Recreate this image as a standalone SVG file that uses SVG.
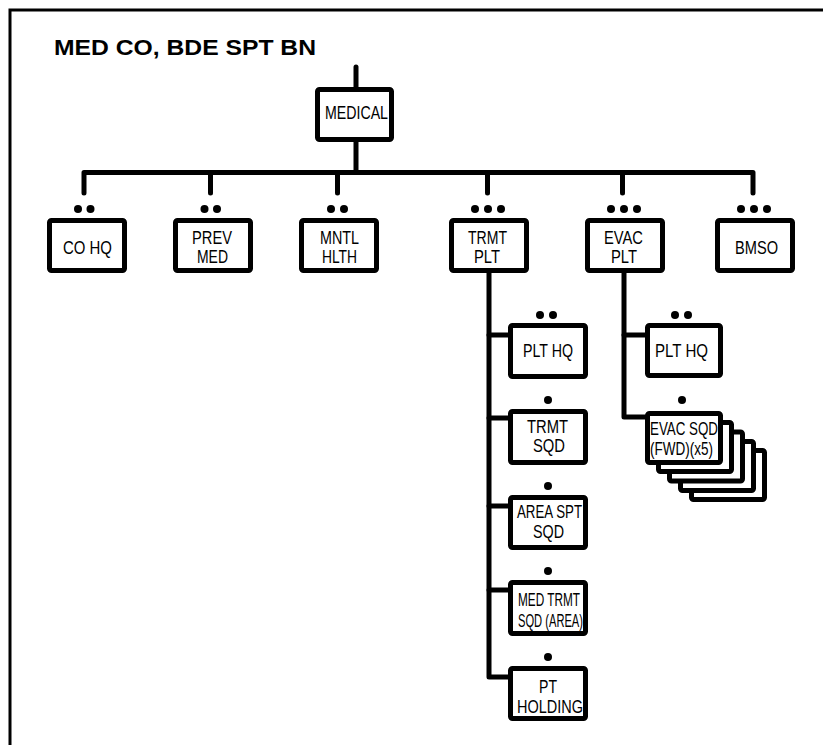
<svg xmlns="http://www.w3.org/2000/svg" width="823" height="745" viewBox="0 0 823 745">
  <style>
    .frame { fill: none; stroke: #000; stroke-width: 3; }
    .wire { fill: none; stroke: #000; stroke-width: 5; stroke-linecap: round; stroke-linejoin: round; }
    .box { fill: #fff; stroke: #000; stroke-width: 5; }
    .dot { fill: #000; }
    .lbl { font-family: "Liberation Sans", Arial, sans-serif; font-size: 18px; fill: #000; }
    .title { font-family: "Liberation Sans", Arial, sans-serif; font-size: 22px; font-weight: bold; fill: #000; }
  </style>
  <defs>
    <circle id="d" r="4" class="dot"/>
  </defs>

  <rect width="823" height="745" fill="#fff"/>

  <!-- page frame: top and left rules -->
  <path class="frame" d="M10,745 V10 H823"/>

  <text class="title" x="54" y="55" textLength="262" lengthAdjust="spacingAndGlyphs">MED CO, BDE SPT BN</text>

  <!-- connectors -->
  <g id="connectors">
    <path class="wire" d="M356,67 V87"/>
    <path class="wire" d="M356,142 V172.5"/>
    <path class="wire" d="M84,193 V172.5 H753 V193"/>
    <path class="wire" d="M210.5,172.5 V193"/>
    <path class="wire" d="M337.5,172.5 V193"/>
    <path class="wire" d="M487.5,172.5 V193"/>
    <path class="wire" d="M622.5,172.5 V193"/>
    <!-- treatment platoon spine -->
    <path class="wire" d="M489,273 V677 H508"/>
    <path class="wire" d="M489,335 H508"/>
    <path class="wire" d="M489,418 H508"/>
    <path class="wire" d="M489,506 H508"/>
    <path class="wire" d="M489,590 H508"/>
    <!-- evacuation platoon spine -->
    <path class="wire" d="M624,273 V417 H645"/>
    <path class="wire" d="M624,335 H645"/>
  </g>

  <!-- company headquarters element -->
  <g id="medical">
    <rect class="box" x="317.5" y="89.5" width="74" height="50" rx="2"/>
    <text class="lbl" x="325" y="119" textLength="63" lengthAdjust="spacingAndGlyphs">MEDICAL</text>
  </g>

  <g id="co-hq">
    <use href="#d" x="78" y="209"/><use href="#d" x="90.5" y="209"/>
    <rect class="box" x="49.5" y="220.5" width="75" height="50" rx="2"/>
    <text class="lbl" x="63" y="254" textLength="49" lengthAdjust="spacingAndGlyphs">CO HQ</text>
  </g>

  <g id="prev-med">
    <use href="#d" x="204.5" y="209"/><use href="#d" x="217" y="209"/>
    <rect class="box" x="175.5" y="220.5" width="75" height="50" rx="2"/>
    <text class="lbl" x="192" y="244" textLength="40" lengthAdjust="spacingAndGlyphs">PREV</text>
    <text class="lbl" x="197" y="263" textLength="31" lengthAdjust="spacingAndGlyphs">MED</text>
  </g>

  <g id="mntl-hlth">
    <use href="#d" x="331" y="209"/><use href="#d" x="344" y="209"/>
    <rect class="box" x="301.5" y="220.5" width="75" height="50" rx="2"/>
    <text class="lbl" x="320" y="244" textLength="39" lengthAdjust="spacingAndGlyphs">MNTL</text>
    <text class="lbl" x="322" y="263" textLength="35" lengthAdjust="spacingAndGlyphs">HLTH</text>
  </g>

  <g id="trmt-plt">
    <use href="#d" x="475" y="209"/><use href="#d" x="488" y="209"/><use href="#d" x="501" y="209"/>
    <rect class="box" x="451.5" y="220.5" width="75" height="50" rx="2"/>
    <text class="lbl" x="468" y="244" textLength="39" lengthAdjust="spacingAndGlyphs">TRMT</text>
    <text class="lbl" x="474" y="263" textLength="26" lengthAdjust="spacingAndGlyphs">PLT</text>
  </g>

  <g id="evac-plt">
    <use href="#d" x="611" y="209"/><use href="#d" x="624" y="209"/><use href="#d" x="637" y="209"/>
    <rect class="box" x="587.5" y="220.5" width="75" height="50" rx="2"/>
    <text class="lbl" x="604" y="244" textLength="39" lengthAdjust="spacingAndGlyphs">EVAC</text>
    <text class="lbl" x="611" y="263" textLength="26" lengthAdjust="spacingAndGlyphs">PLT</text>
  </g>

  <g id="bmso">
    <use href="#d" x="741" y="209"/><use href="#d" x="754" y="209"/><use href="#d" x="767" y="209"/>
    <rect class="box" x="717.5" y="220.5" width="75" height="50" rx="2"/>
    <text class="lbl" x="735" y="254" textLength="43" lengthAdjust="spacingAndGlyphs">BMSO</text>
  </g>

  <!-- treatment platoon elements -->
  <g id="trmt-plt-hq">
    <use href="#d" x="540" y="315"/><use href="#d" x="553" y="315"/>
    <rect class="box" x="510.5" y="325.5" width="75" height="51" rx="2"/>
    <text class="lbl" x="523" y="357" textLength="50" lengthAdjust="spacingAndGlyphs">PLT HQ</text>
  </g>

  <g id="trmt-sqd">
    <use href="#d" x="548" y="400"/>
    <rect class="box" x="510.5" y="411.5" width="75" height="51" rx="2"/>
    <text class="lbl" x="527" y="433" textLength="41" lengthAdjust="spacingAndGlyphs">TRMT</text>
    <text class="lbl" x="533" y="452" textLength="32" lengthAdjust="spacingAndGlyphs">SQD</text>
  </g>

  <g id="area-spt-sqd">
    <use href="#d" x="548" y="486"/>
    <rect class="box" x="510.5" y="497.5" width="75" height="50" rx="2"/>
    <text class="lbl" x="517" y="518" textLength="65" lengthAdjust="spacingAndGlyphs">AREA SPT</text>
    <text class="lbl" x="533" y="538" textLength="31" lengthAdjust="spacingAndGlyphs">SQD</text>
  </g>

  <g id="med-trmt-sqd">
    <use href="#d" x="548" y="571"/>
    <rect class="box" x="510.5" y="582.5" width="75" height="51" rx="2"/>
    <text class="lbl" x="518" y="606" textLength="62" lengthAdjust="spacingAndGlyphs">MED TRMT</text>
    <text class="lbl" x="518" y="627" textLength="65" lengthAdjust="spacingAndGlyphs">SQD (AREA)</text>
  </g>

  <g id="pt-holding">
    <use href="#d" x="548" y="657"/>
    <rect class="box" x="510.5" y="668.5" width="75" height="50" rx="2"/>
    <text class="lbl" x="539" y="693" textLength="18" lengthAdjust="spacingAndGlyphs">PT</text>
    <text class="lbl" x="517" y="713" textLength="66" lengthAdjust="spacingAndGlyphs">HOLDING</text>
  </g>

  <!-- evacuation platoon elements -->
  <g id="evac-plt-hq">
    <use href="#d" x="675" y="315"/><use href="#d" x="688" y="315"/>
    <rect class="box" x="647.5" y="325.5" width="73" height="50" rx="2"/>
    <text class="lbl" x="655" y="357" textLength="53" lengthAdjust="spacingAndGlyphs">PLT HQ</text>
  </g>

  <g id="evac-sqd">
    <use href="#d" x="682" y="400"/>
    <!-- stacked squads, back to front -->
    <rect class="box" x="691.5" y="450.5" width="73" height="49" rx="2"/>
    <rect class="box" x="680.5" y="441.5" width="73" height="49" rx="2"/>
    <rect class="box" x="669.5" y="432" width="73" height="49" rx="2"/>
    <rect class="box" x="658.5" y="422.5" width="73" height="49" rx="2"/>
    <rect class="box" x="647.5" y="413.5" width="73" height="49" rx="2"/>
    <text class="lbl" x="650" y="435" textLength="68" lengthAdjust="spacingAndGlyphs">EVAC SQD</text>
    <text class="lbl" x="650" y="455" textLength="63" lengthAdjust="spacingAndGlyphs">(FWD)(x5)</text>
  </g>
</svg>
